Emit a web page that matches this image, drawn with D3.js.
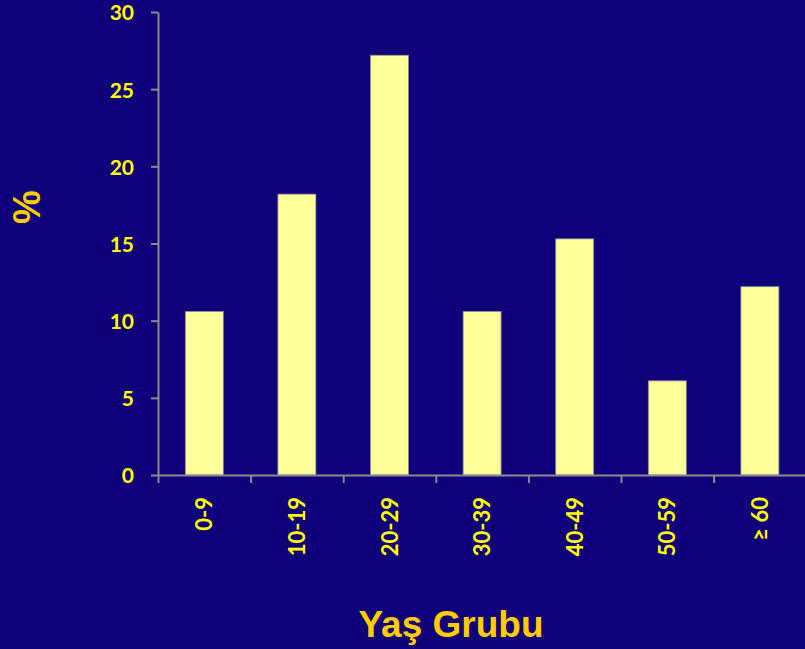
<!DOCTYPE html>
<html lang="tr">
<head>
<meta charset="UTF-8">
<title>Yaş Grubu</title>
<script src="https://cdn.jsdelivr.net/npm/d3@7"></script>
<style>
  html, body { margin: 0; padding: 0; background: #10007a; }
  svg { display: block; }
  .tick text { font-family: Lato, "Open Sans", sans-serif; font-weight: bold; fill: #ffff00; }
</style>
</head>
<body>
<svg width="805" height="649"></svg>
<script>
// data
var groups = ["0-9", "10-19", "20-29", "30-39", "40-49", "50-59", "\u2265 60"];
var percents = [10.6, 18.2, 27.2, 10.6, 15.3, 6.1, 12.2];
var yTicks = [0, 5, 10, 15, 20, 25, 30];

var svg = d3.select("svg"),
    width = +svg.attr("width"),
    height = +svg.attr("height");

var margin = {left: 158, top: 12, bottom: 174};
var plotBottom = height - margin.bottom;

svg.append("rect")
  .attr("width", width).attr("height", height)
  .attr("fill", "#10007a");

var x = d3.scaleBand()
  .domain(groups)
  .range([margin.left, margin.left + 92.6 * groups.length])
  .paddingInner(0.59)
  .paddingOuter(0.295);

var y = d3.scaleLinear()
  .domain([0, 30])
  .range([plotBottom, margin.top]);

// bars
svg.append("g")
  .selectAll("rect")
  .data(groups)
  .enter().append("rect")
    .attr("x", function(d) { return x(d); })
    .attr("y", function(d, i) { return y(percents[i]); })
    .attr("width", x.bandwidth())
    .attr("height", function(d, i) { return plotBottom - y(percents[i]); })
    .attr("fill", "#ffff99")
    .attr("stroke", "#8a8a9a")
    .attr("stroke-width", 0.8);

// y axis
var yAxis = svg.append("g")
  .attr("transform", "translate(" + margin.left + ",0)")
  .call(d3.axisLeft(y).tickValues(yTicks).tickSize(7).tickPadding(17).tickSizeOuter(0));
yAxis.selectAll("text").style("font-size", "21px").attr("dy", "0.38em");

// x axis: ticks between categories
var xLine = d3.scaleLinear().domain([0, groups.length]).range([margin.left, margin.left + 92.6 * groups.length]);
var xAxis = svg.append("g")
  .attr("transform", "translate(0," + plotBottom + ")")
  .call(d3.axisBottom(xLine).tickValues(d3.range(0, groups.length + 1)).tickSize(8).tickFormat("").tickSizeOuter(0));

svg.selectAll(".domain, .tick line").attr("stroke", "#8c8c8c").attr("stroke-width", 2);

// x category labels, rotated
svg.append("g")
  .selectAll("text")
  .data(groups)
  .enter().append("text")
    .attr("transform", function(d) {
      return "translate(" + (x(d) + x.bandwidth() / 2 + 8) + "," + (plotBottom + 22) + ") rotate(-90)";
    })
    .attr("text-anchor", "end")
    .attr("font-family", "Lato, 'Open Sans', sans-serif")
    .attr("font-weight", "bold")
    .attr("font-size", "22px")
    .attr("fill", "#ffff00")
    .text(function(d) { return d; });

// axis titles
svg.append("text")
  .attr("transform", "translate(40,207) rotate(-90)")
  .attr("text-anchor", "middle")
  .attr("font-family", "'Liberation Sans', Arial, sans-serif")
  .attr("font-weight", "bold")
  .attr("font-size", "38px")
  .attr("fill", "#ffcc00")
  .text("%");

svg.append("text")
  .attr("x", 451)
  .attr("y", 637)
  .attr("text-anchor", "middle")
  .attr("font-family", "'Liberation Sans', Arial, sans-serif")
  .attr("font-weight", "bold")
  .attr("font-size", "37px")
  .attr("fill", "#ffcc00")
  .text("Yaş Grubu");
</script>
</body>
</html>
